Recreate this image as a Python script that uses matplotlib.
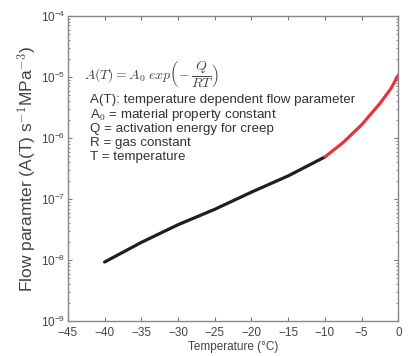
import numpy as np
import matplotlib
matplotlib.use('Agg')
import matplotlib.pyplot as plt

plt.rcParams['font.family'] = ['Liberation Sans', 'DejaVu Sans']
plt.rcParams['mathtext.fontset'] = 'cm'

# Valores
t_frio = [-40, -35, -30, -25, -20, -15, -10]
a_frio = [9.3e-9, 1.95e-8, 3.8e-8, 6.8e-8, 1.3e-7, 2.4e-7, 4.9e-7]

t_calido = [-10, -7.5, -5, -2.5, -1, 0]
a_calido = [4.9e-7, 8.5e-7, 1.65e-6, 3.7e-6, 6.5e-6, 1.08e-5]

xticks = [-45, -40, -35, -30, -25, -20, -15, -10, -5, 0]
yticks = [1e-9, 1e-8, 1e-7, 1e-6, 1e-5, 1e-4]

notas = ['A(T): temperature dependent flow parameter',
         'A$_0$ = material property constant',
         'Q = activation energy for creep',
         'R = gas constant',
         'T = temperature']

fig = plt.figure(figsize=(4.09, 3.56), dpi=100)
ax = fig.add_axes([0.166, 0.098, 0.808, 0.857])

ax.plot(t_frio, a_frio, color='#1e1e1e', lw=2.3, solid_capstyle='round')
ax.plot(t_calido, a_calido, color='#e8323c', lw=2.3, solid_capstyle='round')

ax.set_yscale('log')
ax.set_xlim(-45, 0)
ax.set_ylim(1e-9, 1e-4)
ax.set_xticks(xticks)
ax.set_yticks(yticks)
ax.tick_params(which='both', direction='in', top=True, right=True,
               colors='#777777', labelcolor='#444444', labelsize=8.5)
ax.tick_params(which='major', length=3, pad=2)
ax.tick_params(axis='x', which='major', pad=4.5)
ax.tick_params(which='minor', length=1.5)
for s in ax.spines.values():
    s.set_color('#888888')
    s.set_linewidth(1.0)

ax.set_xlabel('Temperature (°C)', fontsize=8.5, color='#444444', labelpad=1)
ax.set_ylabel('Flow paramter (A(T) s$^{-1}$MPa$^{-3}$)', fontsize=12.5,
              color='#444444', labelpad=1)

ax.text(0.05, 0.81, r'$A(T) = A_0\; exp\left(-\,\dfrac{Q}{RT}\right)$',
        transform=ax.transAxes, fontsize=10, color='#444444', va='center')

pos_y = [0.725, 0.675, 0.630, 0.584, 0.538]
for txt, yy in zip(notas, pos_y):
    ax.text(0.067, yy, txt, transform=ax.transAxes, fontsize=9.6,
            color='#333333', va='center')

fig.savefig('out.png', dpi=100)
